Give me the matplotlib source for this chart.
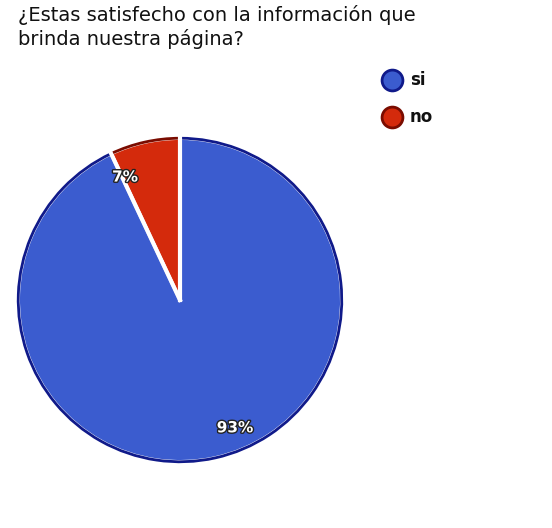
import matplotlib
matplotlib.use("Agg")
import matplotlib.pyplot as plt
from matplotlib.lines import Line2D
import matplotlib.patheffects as pe

categories = ["si", "no"]
values = [93, 7]
colors = ["#3b5ccf", "#d42a0c"]
edges = ["#101a8a", "#7a0c00"]

fig = plt.figure(figsize=(5.52, 5.28), dpi=100)
fig.text(18/552, 1-5/528, "¿Estas satisfecho con la información que\nbrinda nuestra página?",
         fontsize=14, va="top", ha="left", color="#111111", linespacing=1.25)

ax = fig.add_axes([15/552, 1-465/528, 330/552, 330/528])
order = [1, 0]
wedges, _ = ax.pie([values[i] for i in order], colors=[colors[i] for i in order],
                   startangle=90, counterclock=True,
                   wedgeprops=dict(edgecolor="white", linewidth=2.5))
for w, i in zip(wedges, order):
    w2 = plt.matplotlib.patches.Wedge(w.center, w.r, w.theta1, w.theta2,
                                      facecolor="none", edgecolor=edges[i], linewidth=2)
    ax.add_patch(w2)
for w in wedges:
    w.set_zorder(1)
ax.plot([0, 0], [0, 1], color="white", lw=3, zorder=5)
import numpy as np
t = np.deg2rad(90 + 360*values[1]/100)
ax.plot([0, np.cos(t)], [0, np.sin(t)], color="white", lw=3, zorder=5)
ax.set_aspect("equal")
ax.set_xlim(-1.02, 1.02); ax.set_ylim(-1.02, 1.02)

eff = [pe.withStroke(linewidth=2, foreground="#222222")]
ax.text(-0.34, 0.76, "7%", color="white", fontsize=11, fontweight="bold",
        ha="center", va="center", path_effects=eff, zorder=6)
ax.text(0.34, -0.79, "93%", color="white", fontsize=11, fontweight="bold",
        ha="center", va="center", path_effects=eff, zorder=6)

for i, (c, e) in enumerate(zip(categories, edges)):
    y = 1 - (80 + 37*i)/528
    fig.lines.append(Line2D([392/552], [y], marker="o", markersize=15,
                            markerfacecolor=colors[i], markeredgecolor=e,
                            markeredgewidth=2, transform=fig.transFigure))
    fig.text(410/552, y, c, fontsize=12, fontweight="bold", va="center", ha="left",
             color="#111111")

fig.savefig("out.png", dpi=100)
